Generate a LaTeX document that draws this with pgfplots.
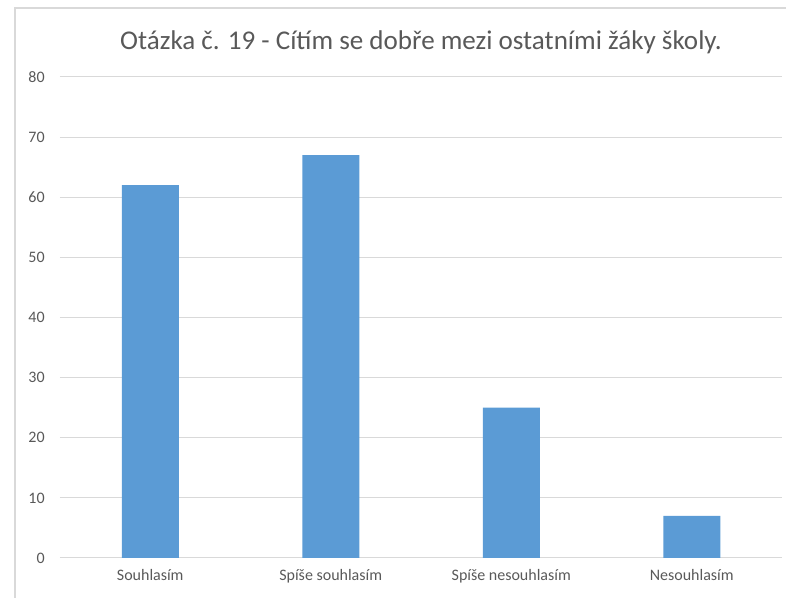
\documentclass[border=0pt]{standalone}
\usepackage{pgfplots}
\pgfplotsset{compat=1.18}
\usepackage{fontspec}
\setmainfont{Carlito}
\definecolor{barblue}{HTML}{5B9BD5}
\definecolor{gridgray}{HTML}{D9D9D9}
\definecolor{txtgray}{HTML}{595959}

\begin{document}
\begin{tikzpicture}
    \useasboundingbox (0pt,0pt) rectangle (589.5pt,448.5pt);
    % chart area border (right and bottom edges fall outside the picture)
    \draw[gridgray, line width=1.2pt] (11.25pt,0pt) -- (11.25pt,442.5pt) -- (589.5pt,442.5pt);
    \node[txtgray, font=\fontsize{20.3}{24}\selectfont] at (315.75pt,417pt) {Otázka č. 19 - Cítím se dobře mezi ostatními žáky školy.};

    \begin{axis}[
        at={(45pt,30pt)}, anchor=south west,
        scale only axis,
        width=541.5pt, height=360.75pt,
        ybar, bar width=42.75pt,
        xmin=-0.5, xmax=3.5,
        ymin=0, ymax=80,
        xtick=data,
        xticklabels={Souhlasím, Spíše souhlasím, Spíše nesouhlasím, Nesouhlasím},
        ytick={0,10,...,80},
        ymajorgrids,
        grid style={gridgray, line width=0.75pt},
        axis x line*=bottom,
        axis y line*=left,
        x axis line style={gridgray, line width=0.75pt, -},
        y axis line style={draw=none, -},
        major tick length=0pt,
        tick label style={txtgray, font=\fontsize{12}{14}\selectfont},
        /pgf/number format/assume math mode=true,
        xticklabel style={yshift=-5pt},
        yticklabel style={xshift=-8pt},
    ]
    \addplot[fill=barblue, draw=none] coordinates {(0,62) (1,67) (2,25) (3,7)};
    \end{axis}
\end{tikzpicture}
\end{document}
